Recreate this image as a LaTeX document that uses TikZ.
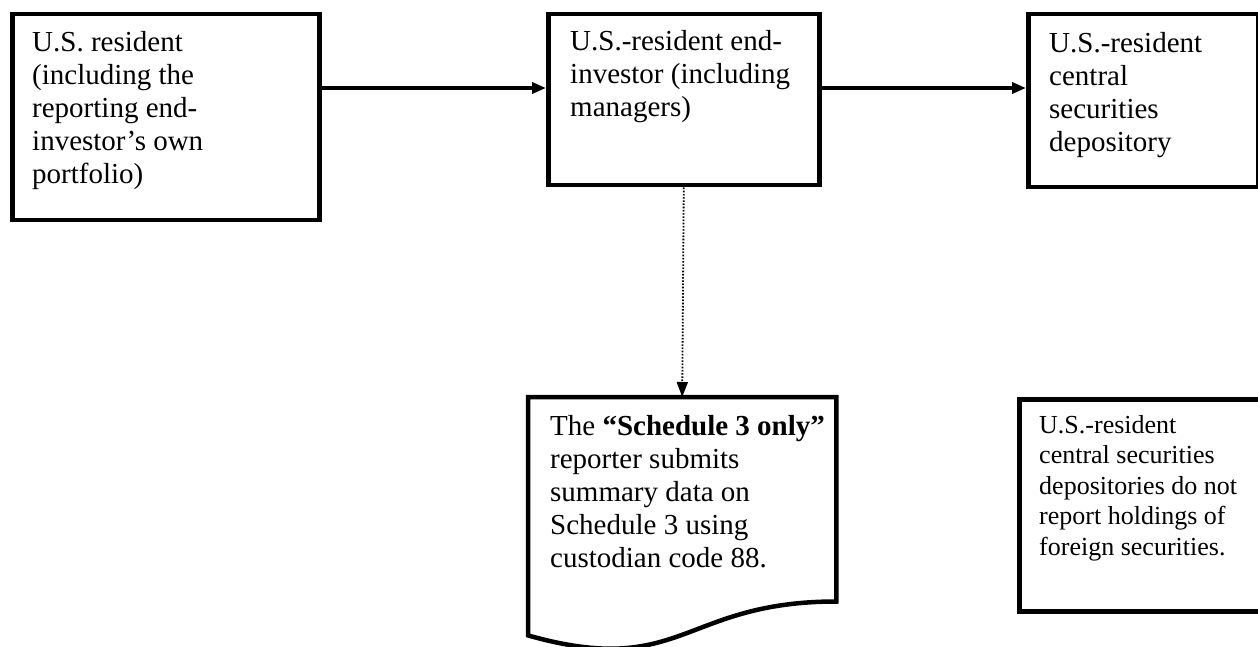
\documentclass[tikz,border=0pt]{standalone}
\usepackage{fontspec}
\setmainfont{Liberation Serif}
\usetikzlibrary{arrows.meta,calc}
\begin{document}
\begin{tikzpicture}[x=1pt,y=-1pt,
  box/.style={draw=black,line width=4.5pt,rectangle,inner sep=0pt,anchor=north west},
  ghost/.style={rectangle,inner sep=0pt,anchor=north west},
  txt/.style={anchor=north west,inner sep=0pt,align=left,font=\fontsize{29}{33}\selectfont},
  smalltxt/.style={anchor=north west,inner sep=0pt,align=left,font=\fontsize{26}{30.4}\selectfont},
  flow/.style={line width=3.5pt,-{Triangle[length=14pt,width=11pt]}},
  dotflow/.style={line width=1.8pt,dash pattern=on 1.6pt off 1.6pt,-{Triangle[length=15pt,width=11pt]}}
]
\useasboundingbox (0,0) rectangle (1258,647);
\fill[white] (0,0) rectangle (1258,647);

\node[box,minimum width=307pt,minimum height=206pt] (b1) at (10,12) {};
\node[box,minimum width=271pt,minimum height=171pt] (b2) at (546,12) {};
\node[box,minimum width=230pt,minimum height=173pt] (b3) at (1026,12) {};
\node[ghost,minimum width=308pt,minimum height=238pt] (doc) at (528,397) {};
\node[box,minimum width=245pt,minimum height=212pt] (b5) at (1017,397) {};

\draw[line width=4.5pt,line join=miter] (doc.south west) -- (doc.north west) -- (doc.north east)
  -- ($(doc.north east)+(0,204.5)$)
  .. controls ($(doc.north)+(0,204.5)$) and ($(doc.north)+(0,282)$) .. (doc.south west) -- cycle;

\node[txt] (t1) at ($(b1.north west)+(22,16)$) {\strut U.S. resident\\(including the\\reporting end-\\investor’s own\\portfolio)};
\node[txt] (t2) at ($(b2.north west)+(24,15)$) {\strut U.S.-resident end-\\investor (including\\managers)};
\node[txt] (t3) at ($(b3.north west)+(23,17)$) {\strut U.S.-resident\\central\\securities\\depository};
\node[txt] (t4) at ($(doc.north west)+(22,15)$) {\strut The \textbf{“Schedule 3 only”}\\reporter submits\\summary data on\\Schedule 3 using\\custodian code 88.};
\node[smalltxt] (t5) at ($(b5.north west)+(22,15)$) {\strut U.S.-resident\\central securities\\depositories do not\\report holdings of\\foreign securities.};

\draw[flow] ($(b1.north east)+(0,76)$) -- ($(b2.north west)+(0,76)$);
\draw[flow] ($(b2.north east)+(0,76)$) -- ($(b3.north west)+(0,76)$);
\draw[dotflow] (b2.south) -- (doc.north);
\end{tikzpicture}
\end{document}
